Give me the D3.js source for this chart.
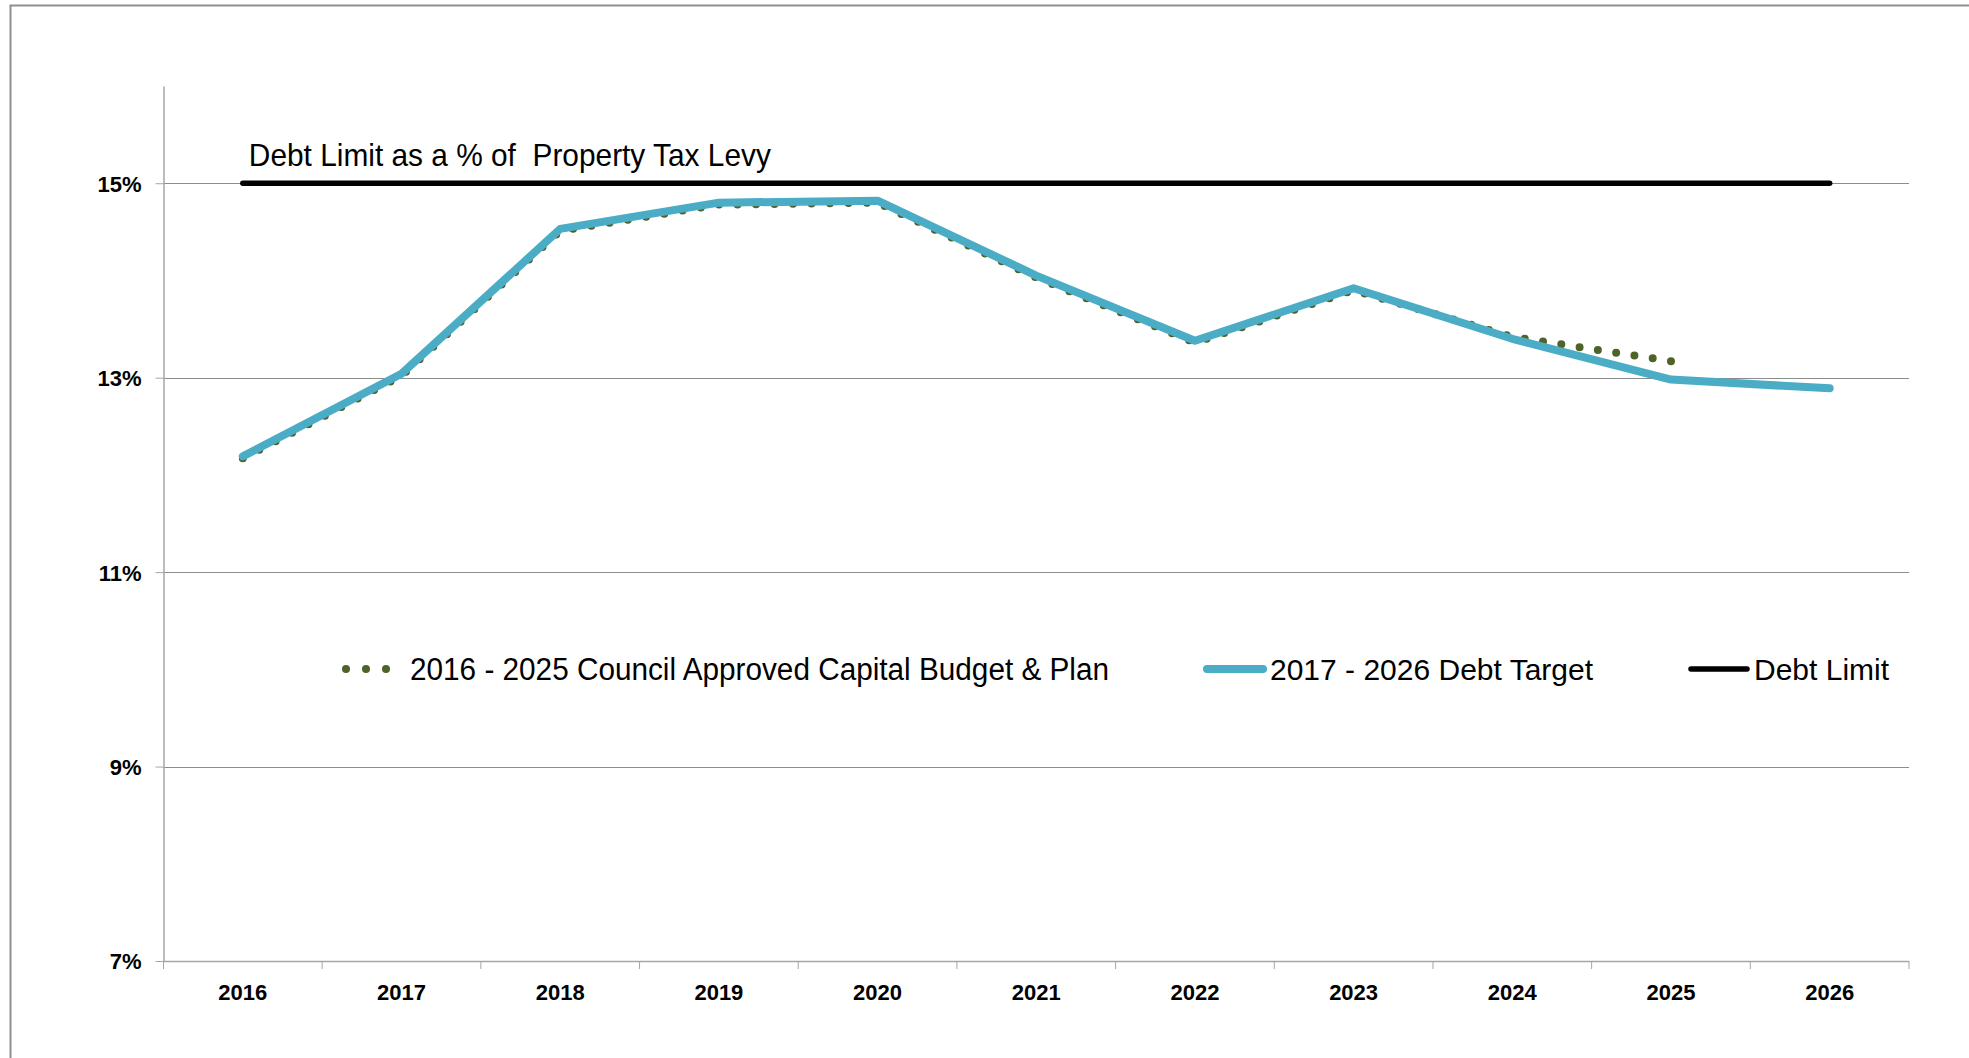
<!DOCTYPE html>
<html>
<head>
<meta charset="utf-8">
<script src="https://cdn.jsdelivr.net/npm/d3@7"></script>
<style>
  html, body { margin: 0; padding: 0; background: #ffffff; }
  svg { display: block; }
  text { font-family: "Liberation Sans", Arial, Helvetica, sans-serif; }
</style>
</head>
<body>
<svg id="chart" width="1969" height="1058"></svg>
<script>
// Fiscal years on the category axis
const years = ["2016", "2017", "2018", "2019", "2020", "2021", "2022", "2023", "2024", "2025", "2026"];

// 2017 - 2026 Debt Target (% of property tax levy)
const debtTarget = [12.19, 13.04, 14.53, 14.80, 14.82, 14.05, 13.38, 13.92, 13.40, 12.98, 12.89];

// 2016 - 2025 Council Approved Capital Budget & Plan (ends at 2025)
const councilPlanYears = ["2016", "2017", "2018", "2019", "2020", "2021", "2022", "2023", "2024", "2025"];
const councilPlan = [12.17, 13.02, 14.51, 14.78, 14.80, 14.03, 13.36, 13.90, 13.42, 13.17];

// Statutory debt limit
const debtLimit = 15;

// Value axis
const yTicks = [7, 9, 11, 13, 15];
const yDomain = [7, 16];

const legendLabels = [
  "2016 - 2025 Council Approved Capital Budget & Plan",
  "2017 - 2026 Debt Target",
  "Debt Limit"
];
const annotation = "Debt Limit as a % of  Property Tax Levy";

const svg = d3.select("#chart");

// outer frame
svg.append("rect")
  .attr("x", 10.5).attr("y", 5.5)
  .attr("width", 2000).attr("height", 1100)
  .attr("fill", "none")
  .attr("stroke", "#8f8f8f")
  .attr("stroke-width", 2);

const plot = { left: 163.5, right: 1909, top: 86, bottom: 961 };

const x = d3.scaleBand().domain(years).range([plot.left, plot.right]).paddingInner(0).paddingOuter(0);
const cx = d => x(d) + x.bandwidth() / 2;
const y = d3.scaleLinear().domain(yDomain).range([plot.bottom, plot.top]);

// horizontal gridlines
svg.append("g")
  .selectAll("line")
  .data(yTicks.filter(t => t !== yDomain[0]))
  .join("line")
  .attr("x1", plot.left).attr("x2", plot.right)
  .attr("y1", d => Math.round(y(d)) + 0.5).attr("y2", d => Math.round(y(d)) + 0.5)
  .attr("stroke", "#8c8c8c").attr("stroke-width", 1);

// value axis
const yAxis = d3.axisLeft(y).tickValues(yTicks).tickSizeInner(8).tickSizeOuter(0).tickFormat(d => d + "%");
const gy = svg.append("g").attr("transform", `translate(${plot.left},0)`).call(yAxis);
gy.select(".domain").attr("stroke", "#a6a6a6").attr("stroke-width", 1.5);
gy.selectAll(".tick line").attr("stroke", "#a6a6a6").attr("stroke-width", 1);
gy.selectAll(".tick text")
  .attr("x", -22)
  .attr("dy", "0.36em")
  .attr("fill", "#000")
  .style("font-size", "22px")
  .style("font-weight", "bold")
  .style("font-family", "'Liberation Sans', Arial, sans-serif");

// category axis: line, boundary ticks and centred labels
const gx = svg.append("g").attr("transform", `translate(0,${plot.bottom})`);
gx.append("line")
  .attr("x1", plot.left).attr("x2", plot.right)
  .attr("y1", 0.5).attr("y2", 0.5)
  .attr("stroke", "#a6a6a6").attr("stroke-width", 1.5);
const boundaries = years.map(d => x(d)).concat([x(years[years.length - 1]) + x.bandwidth()]);
gx.selectAll("line.tick")
  .data(boundaries)
  .join("line")
  .attr("class", "tick")
  .attr("x1", d => d).attr("x2", d => d)
  .attr("y1", 0).attr("y2", 8)
  .attr("stroke", "#a6a6a6").attr("stroke-width", 1);
gx.selectAll("text")
  .data(years)
  .join("text")
  .attr("x", d => cx(d))
  .attr("y", 39)
  .attr("text-anchor", "middle")
  .style("font-size", "22px")
  .style("font-weight", "bold")
  .attr("fill", "#000")
  .text(d => d);

const line = d3.line().x(d => cx(d[0])).y(d => y(d[1]));

// council-approved plan: round dots, spaced so a dot sits on each end
const planPath = svg.append("path")
  .datum(councilPlanYears.map((d, i) => [d, councilPlan[i]]))
  .attr("d", line)
  .attr("fill", "none")
  .attr("stroke", "#4f6228")
  .attr("stroke-width", 8)
  .attr("stroke-linecap", "round");
const planLen = planPath.node().getTotalLength();
const dotGap = planLen / Math.round(planLen / 18.5);
planPath.attr("stroke-dasharray", `0 ${dotGap}`);

// debt target
svg.append("path")
  .datum(years.map((d, i) => [d, debtTarget[i]]))
  .attr("d", line)
  .attr("fill", "none")
  .attr("stroke", "#4bacc6")
  .attr("stroke-width", 8)
  .attr("stroke-linecap", "round")
  .attr("stroke-linejoin", "round");

// debt limit
svg.append("path")
  .datum(years.map(d => [d, debtLimit]))
  .attr("d", line)
  .attr("fill", "none")
  .attr("stroke", "#000")
  .attr("stroke-width", 5.5)
  .attr("stroke-linecap", "round");

svg.append("text")
  .attr("x", cx(years[0]) + 6)
  .attr("y", y(debtLimit) - 17)
  .style("font-size", "32px")
  .style("white-space", "pre")
  .attr("textLength", 522)
  .attr("lengthAdjust", "spacingAndGlyphs")
  .attr("fill", "#000")
  .text(annotation);

// legend
const legendY = 669;
const legend = svg.append("g").attr("transform", `translate(0,${legendY})`);
const items = [
  { x: 343, label: legendLabels[0], kind: "dots" },
  { x: 1203, label: legendLabels[1], kind: "target" },
  { x: 1689, label: legendLabels[2], kind: "limit" }
];
items.forEach(it => {
  const g = legend.append("g").attr("transform", `translate(${it.x},0)`);
  if (it.kind === "dots") {
    g.selectAll("circle")
      .data([3, 23, 43])
      .join("circle")
      .attr("cx", d => d).attr("cy", 0).attr("r", 4)
      .attr("fill", "#4f6228");
    g.append("text").attr("x", 67).attr("y", 11)
      .style("font-size", "31px")
      .attr("textLength", 699).attr("lengthAdjust", "spacingAndGlyphs")
      .text(it.label);
  } else if (it.kind === "target") {
    g.append("line")
      .attr("x1", 4).attr("x2", 60).attr("y1", 0).attr("y2", 0)
      .attr("stroke", "#4bacc6").attr("stroke-width", 8).attr("stroke-linecap", "round");
    g.append("text").attr("x", 67).attr("y", 11).style("font-size", "30px").text(it.label);
  } else {
    g.append("line")
      .attr("x1", 2).attr("x2", 58).attr("y1", 0).attr("y2", 0)
      .attr("stroke", "#000").attr("stroke-width", 5.5).attr("stroke-linecap", "round");
    g.append("text").attr("x", 65).attr("y", 11).style("font-size", "30px").text(it.label);
  }
});
</script>
</body>
</html>
